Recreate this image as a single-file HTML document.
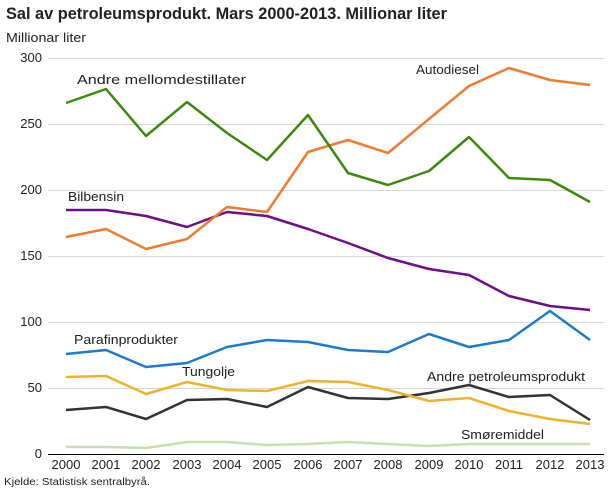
<!DOCTYPE html>
<html><head><meta charset="utf-8"><style>
body{margin:0;background:#fff;width:610px;height:488px;overflow:hidden;font-family:"Liberation Sans","DejaVu Sans",sans-serif}
</style></head><body>
<svg width="610" height="488" xmlns="http://www.w3.org/2000/svg" font-family="Liberation Sans, DejaVu Sans, sans-serif">
<text x="6" y="19" font-size="17" font-weight="bold" fill="#222" textLength="441" lengthAdjust="spacingAndGlyphs">Sal av petroleumsprodukt. Mars 2000-2013. Millionar liter</text>
<text x="6" y="42" font-size="12.5" fill="#222" textLength="80" lengthAdjust="spacingAndGlyphs">Millionar liter</text>
<g stroke="#d9d9d9" stroke-width="1">
<line x1="48" x2="604" y1="58.5" y2="58.5"/><line x1="48" x2="604" y1="124.5" y2="124.5"/>
<line x1="48" x2="604" y1="190.5" y2="190.5"/><line x1="48" x2="604" y1="256.5" y2="256.5"/>
<line x1="48" x2="604" y1="322.5" y2="322.5"/><line x1="48" x2="604" y1="388.5" y2="388.5"/>
</g>
<line x1="48" x2="604" y1="454.5" y2="454.5" stroke="#000"/>
<g font-size="13" fill="#222" text-anchor="end">
<text x="42" y="62">300</text><text x="42" y="128">250</text><text x="42" y="194">200</text>
<text x="42" y="260">150</text><text x="42" y="326">100</text><text x="42" y="392">50</text><text x="42" y="458">0</text>
</g>
<g font-size="13" fill="#222" text-anchor="middle">
<text x="66" y="469">2000</text><text x="106" y="469">2001</text><text x="146" y="469">2002</text><text x="187" y="469">2003</text><text x="227" y="469">2004</text><text x="267" y="469">2005</text><text x="308" y="469">2006</text><text x="348" y="469">2007</text><text x="388" y="469">2008</text><text x="429" y="469">2009</text><text x="469" y="469">2010</text><text x="509" y="469">2011</text><text x="550" y="469">2012</text><text x="590" y="469">2013</text>
</g>
<g fill="none" stroke-width="2.5" stroke-linejoin="round">
<polyline stroke="#c5dfb0" points="66,447 106,447 146,448 187,442 227,442 267,445 308,444 348,442 388,444 429,446 469,444 509,444 550,444 590,444"/>
<polyline stroke="#333" points="66,410 106,407 146,419 187,400 227,399 267,407 308,387 348,398 388,399 429,393 469,385 509,397 550,395 590,420"/>
<polyline stroke="#efb22a" points="66,377 106,376 146,394 187,382 227,390 267,391 308,381 348,382 388,390 429,401 469,398 509,411 550,419 590,424"/>
<polyline stroke="#1c7bd0" points="66,354 106,350 146,367 187,363 227,347 267,340 308,342 348,350 388,352 429,334 469,347 509,340 550,311 590,340"/>
<polyline stroke="#6c0f88" points="66,210 106,210 146,216 187,227 227,212 267,216 308,229 348,243 388,258 429,269 469,275 509,296 550,306 590,310"/>
<polyline stroke="#ee7b30" points="66,237 106,229 146,249 187,239 227,207 267,212 308,152 348,140 388,153 429,119 469,86 509,68 550,80 590,85"/>
<polyline stroke="#3b8a0c" points="66,103 106,89 146,136 187,102 227,133 267,160 308,115 348,173 388,185 429,171 469,137 509,178 550,180 590,202"/>
</g>
<g font-size="13" fill="#222" lengthAdjust="spacingAndGlyphs">
<text x="77" y="84" textLength="169" lengthAdjust="spacingAndGlyphs">Andre mellomdestillater</text>
<text x="416" y="74" textLength="63" lengthAdjust="spacingAndGlyphs">Autodiesel</text>
<text x="68" y="201" textLength="56" lengthAdjust="spacingAndGlyphs">Bilbensin</text>
<text x="74" y="344" textLength="104" lengthAdjust="spacingAndGlyphs">Parafinprodukter</text>
<text x="182" y="376" textLength="53" lengthAdjust="spacingAndGlyphs">Tungolje</text>
<text x="427" y="381" textLength="158" lengthAdjust="spacingAndGlyphs">Andre petroleumsprodukt</text>
<text x="461" y="439" textLength="83" lengthAdjust="spacingAndGlyphs">Smøremiddel</text>
</g>
<text x="4" y="485" font-size="10" fill="#222" textLength="146" lengthAdjust="spacingAndGlyphs">Kjelde: Statistisk sentralbyrå.</text>
</svg>
</body></html>
